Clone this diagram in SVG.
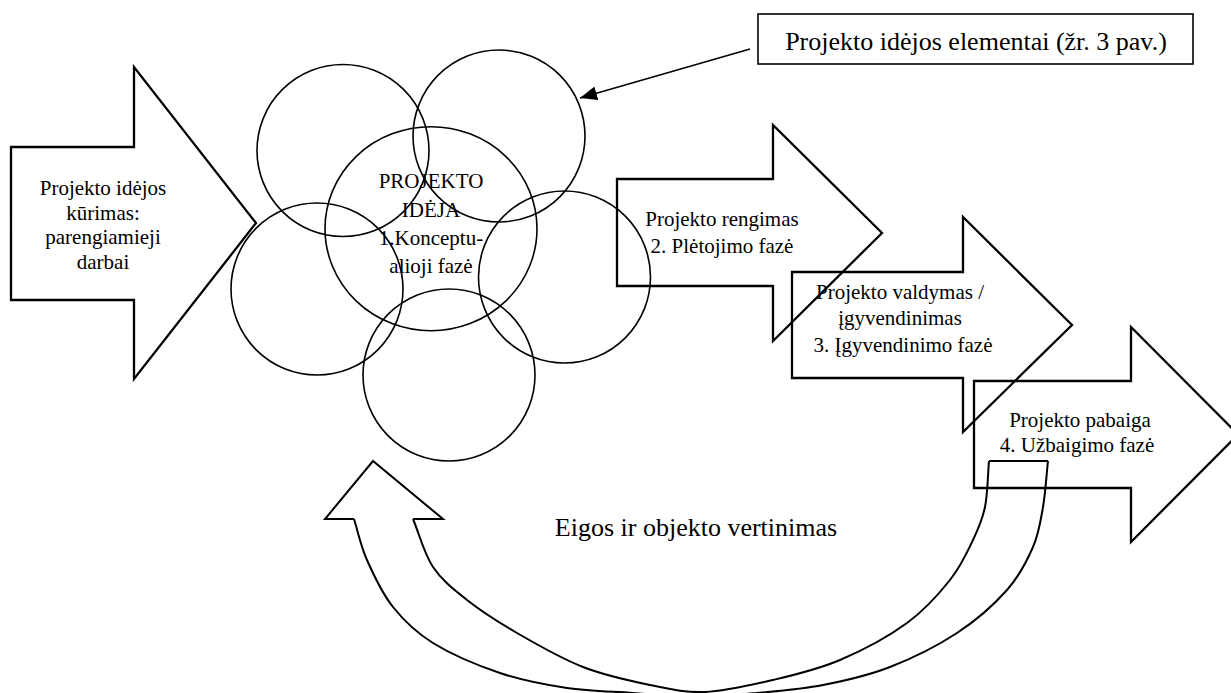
<svg xmlns="http://www.w3.org/2000/svg" width="1231" height="693" viewBox="0 0 1231 693">
<style>
.arr{fill:none;stroke:#000;stroke-width:2.3;stroke-linejoin:miter}
.cir{fill:none;stroke:#000;stroke-width:1.6}
.box{fill:none;stroke:#000;stroke-width:1.6}
.cur{fill:none;stroke:#000;stroke-width:2}
text{fill:#000;text-anchor:middle}
.t{font-size:21px}
.tb{font-size:26px}
</style>
<defs>
<marker id="ah" markerWidth="18" markerHeight="14" refX="17" refY="7" orient="auto" markerUnits="userSpaceOnUse">
<path d="M0,0 L17,7 L0,14 Z" fill="#000"/>
</marker>
</defs>
<rect width="1231" height="693" fill="#fff"/>
<g font-family="Liberation Serif, Tinos, Times New Roman, DejaVu Serif, serif">
<g id="arrow1">
<polygon class="arr" points="11,147 134,147 134,67 256,223 134,379 134,300 11,300"/>
<text class="t" x="103" y="195">Projekto idėjos</text>
<text class="t" x="103" y="219.5">kūrimas:</text>
<text class="t" x="103" y="244">parengiamieji</text>
<text class="t" x="103" y="268.5">darbai</text>
</g>

<g id="circles">
<circle class="cir" cx="343" cy="150.5" r="86"/>
<circle class="cir" cx="499" cy="136" r="86"/>
<circle class="cir" cx="317" cy="289" r="86"/>
<circle class="cir" cx="564.5" cy="277" r="86"/>
<circle class="cir" cx="449" cy="375" r="86"/>
<ellipse class="cir" cx="431" cy="228.7" rx="106" ry="102"/>
</g>

<g id="idea">
<text class="t" x="431" y="188">PROJEKTO</text>
<text class="t" x="431" y="216.5">IDĖJA</text>
<text class="t" x="431" y="244.5">1.Konceptu-</text>
<text class="t" x="431" y="272.5">alioji fazė</text>
</g>

<g id="elements-box">
<rect class="box" x="758" y="14" width="435" height="50"/>
<text class="tb" x="976" y="50">Projekto idėjos elementai (žr. 3 pav.)</text>
</g>

<g id="arrow2">
<polygon class="arr" points="617,179 773,179 773,125 882,233 773,341 773,286 617,286"/>
<text class="t" x="722" y="226">Projekto rengimas</text>
<text class="t" x="722" y="252.5">2. Plėtojimo fazė</text>
</g>

<g id="arrow3">
<polygon class="arr" points="792,272 963,272 963,217 1072,325 963,432 963,378 792,378"/>
<text class="t" x="900" y="299">Projekto valdymas /</text>
<text class="t" x="900" y="325">įgyvendinimas</text>
<text class="t" x="903" y="351.5">3. Įgyvendinimo fazė</text>
</g>

<g id="arrow4">
<polygon class="arr" points="974,381 1131,381 1131,327 1238,434.5 1131,542 1131,488 974,488"/>
<text class="t" x="1080" y="427">Projekto pabaiga</text>
<text class="t" x="1077" y="451.5">4. Užbaigimo fazė</text>
</g>

<g id="feedback">
<path class="cur" d="M354,519 L325,519 L373,461 L443,519 L413,519"/>
<path class="cur" d="M989,461 L1048,461"/>
<path class="cur" d="M413,519 C419.7,535 424,553.5 433,567 C442,580.5 453,589 467,600 C481,611 497.7,621.8 517,633 C536.3,644.2 560.8,658.3 583,667 C605.2,675.7 629.7,680.8 650,685 C670.3,689.2 684.5,692.8 705,692 C725.5,691.2 750.5,685.3 773,680 C795.5,674.7 817.7,669.5 840,660 C862.3,650.5 888.7,636.3 907,623 C925.3,609.7 939,593.8 950,580 C961,566.2 967.2,552.2 973,540 C978.8,527.8 982.3,520.2 985,507 C987.7,493.8 987.7,476.3 989,461"/>
<path class="cur" d="M354,519 C358.3,532.7 360.5,545.3 367,560 C373.5,574.7 382,593.2 393,607 C404,620.8 415.2,632 433,643 C450.8,654 477.7,665.5 500,673 C522.3,680.5 544.8,684.7 567,688 C589.2,691.3 611.7,691.5 633,693 C654.3,694.5 674.3,697 695,697 C715.7,697 735.7,695 757,693 C778.3,691 800.8,689.3 823,685 C845.2,680.7 867.7,675.7 890,667 C912.3,658.3 937.5,645.8 957,633 C976.5,620.2 994.3,604.3 1007,590 C1019.7,575.7 1027,560.8 1033,547 C1039,533.2 1040.5,521.3 1043,507 C1045.5,492.7 1046.3,476.3 1048,461"/>
<text class="tb" x="696" y="536">Eigos ir objekto vertinimas</text>
</g>
</g>
<g id="connectors">
<line x1="750" y1="49" x2="580" y2="98" stroke="#000" stroke-width="1.6" marker-end="url(#ah)"/>
</g>
</svg>
